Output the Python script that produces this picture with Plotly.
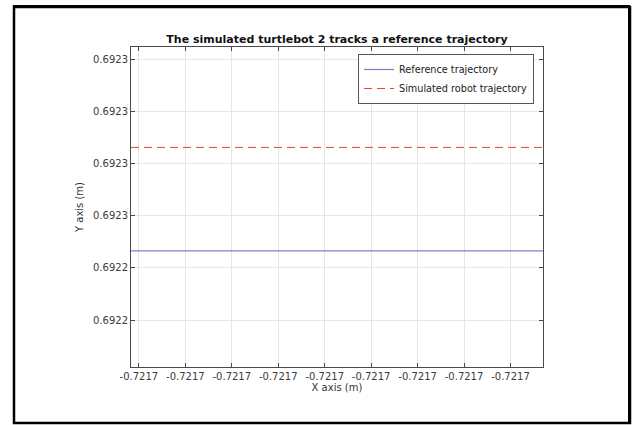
import plotly.graph_objects as go

# ---- data ----
x_track = [-0.7217417, -0.7216530]
y_reference = [0.6922465, 0.6922465]
y_simulated = [0.6922862, 0.6922862]

x_tick_vals = [-0.72174, -0.72173, -0.72172, -0.72171, -0.72170,
               -0.72169, -0.72168, -0.72167, -0.72166]
x_tick_labels = ["-0.7217"] * 9
y_tick_vals = [0.69222, 0.69224, 0.69226, 0.69228, 0.69230, 0.69232]
y_tick_labels = ["0.6922", "0.6922", "0.6923", "0.6923", "0.6923", "0.6923"]

x_range = [-0.7217417, -0.7216530]
y_range = [0.6922020, 0.6923247]

FONT = "DejaVu Sans"
AXIS_COLOR = "#4a4a4a"
GRID_COLOR = "#e6e6e6"

fig = go.Figure()
fig.add_trace(go.Scatter(
    x=x_track, y=y_reference, mode="lines", name="Reference trajectory",
    line=dict(color="#7f82c6", width=1.2),
))
fig.add_trace(go.Scatter(
    x=x_track, y=y_simulated, mode="lines", name="Simulated robot trajectory",
    line=dict(color="#e8403a", width=1, dash="8px,5px"),
))

axis_common = dict(
    showline=True, linecolor=AXIS_COLOR, linewidth=1, mirror="ticks",
    ticks="inside", ticklen=4, tickcolor=AXIS_COLOR, tickwidth=1,
    showgrid=True, gridcolor=GRID_COLOR, gridwidth=1, zeroline=False,
    tickfont=dict(family=FONT, size=10, color="#3a3a3a"),
)

fig.update_layout(
    width=635, height=425,
    margin=dict(l=131, r=92, t=47, b=58),
    paper_bgcolor="white", plot_bgcolor="white",
    font=dict(family=FONT, color="#222222"),
    title=dict(
        text="<b>The simulated turtlebot 2 tracks a reference trajectory</b>",
        font=dict(family=FONT, size=11, color="#111111"),
        x=0.5, xref="paper", xanchor="center",
        y=1 - 39 / 425, yref="container", yanchor="middle",
    ),
    xaxis=dict(
        range=x_range, tickmode="array", tickvals=x_tick_vals, ticktext=x_tick_labels,
        title=dict(text="X axis (m)", font=dict(family=FONT, size=10, color="#333333"), standoff=2),
        **axis_common,
    ),
    yaxis=dict(
        range=y_range, tickmode="array", tickvals=y_tick_vals, ticktext=y_tick_labels,
        title=dict(text="Y axis (m)", font=dict(family=FONT, size=10, color="#333333"), standoff=7),
        **axis_common,
    ),
    legend=dict(
        x=(358 - 131) / 412, y=(367 - 54) / 320, xanchor="left", yanchor="top",
        bgcolor="white", bordercolor="#555555", borderwidth=1,
        font=dict(family=FONT, size=9.7, color="#222222"),
        tracegroupgap=0, itemwidth=30,
    ),
    showlegend=True,
)

# outer figure border (frame around the whole figure)
L, R = (14 - 131) / 412, (630 - 131) / 412
T, B = (367 - 7) / 320, (367 - 423) / 320
fig.add_shape(type="rect", xref="paper", yref="paper",
              x0=L, y0=B, x1=R, y1=T,
              line=dict(color="black", width=2.5), fillcolor="rgba(0,0,0,0)", layer="above")

post = (
    "document.body.style.margin='0';"
    "document.body.style.overflow='hidden';"
    "var f=document.createElement('div');"
    "f.style.cssText='position:absolute;left:13px;top:5px;width:617px;height:419px;"
    "box-sizing:border-box;border:2.5px solid black;pointer-events:none;';"
    "document.body.appendChild(f);"
)

fig.write_html("out.html", config={"displayModeBar": False}, post_script=post)
